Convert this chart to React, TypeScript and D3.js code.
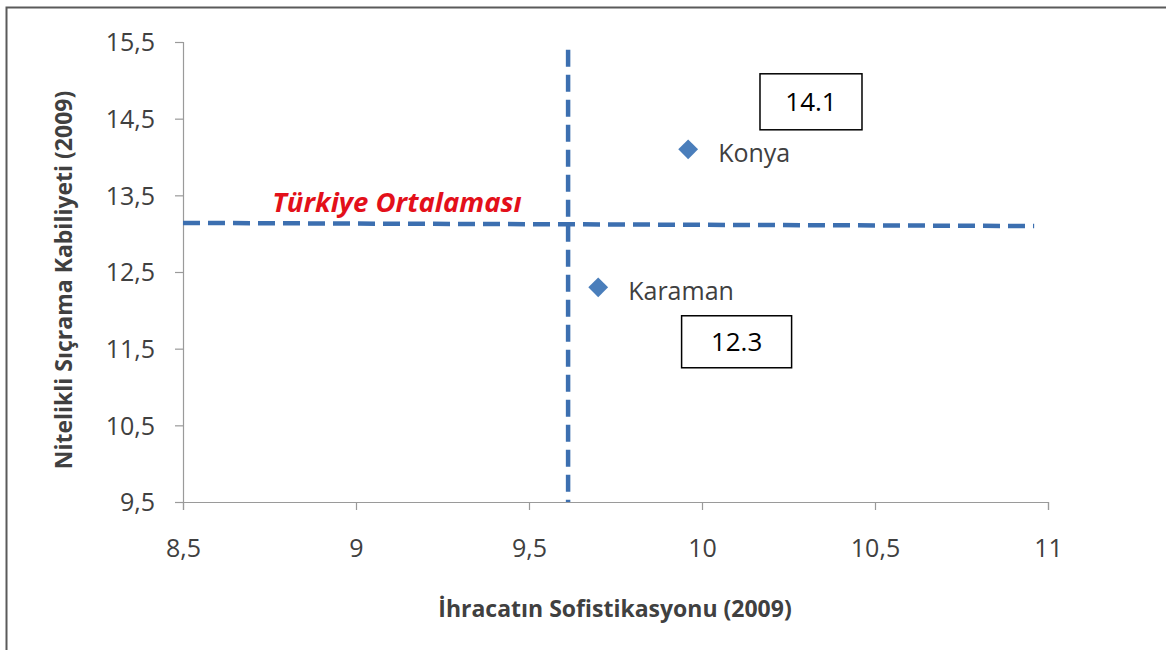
import React, { useRef, useEffect } from "react";
import * as d3 from "d3";

// Data
const xTicks = [8.5, 9, 9.5, 10, 10.5, 11];
const yTicks = [9.5, 10.5, 11.5, 12.5, 13.5, 14.5, 15.5];
const provinces = ["Konya", "Karaman"];
const exportSoph = [9.96, 9.7];
const skillJump = [14.1, 12.3];
// Türkiye average lines
const avgX = 9.613;
const avgY = [13.14, 13.1]; // slight slope as drawn
const avgYRange = [8.5, 10.96];
const avgXRange = [9.5, 15.4];
// value callout boxes (centre in data units)
const boxLabels = ["14.1", "12.3"];
const boxX = [10.315, 10.1];
const boxY = [14.72, 11.59];

const fmt = (d: number) => String(d).replace(".", ",");

function App() {
  const svgRef = useRef<SVGSVGElement>(null);
  const width = 1166;
  const height = 650;

  useEffect(() => {
    const svg = d3.select(svgRef.current);
    svg.selectAll("*").remove();

    const font = "'Open Sans', sans-serif";
    const blue = "#3c6fb0";
    const x = d3.scaleLinear().domain([8.5, 11]).range([183, 1048]);
    const y = d3.scaleLinear().domain([9.5, 15.5]).range([502, 42]);

    // outer frame (top + left)
    svg.append("path")
      .attr("d", `M6.5,${height} V7.5 H${width}`)
      .attr("fill", "none")
      .attr("stroke", "#5a5a5a")
      .attr("stroke-width", 2);

    // axes
    const xAxis = svg.append("g").attr("transform", `translate(0,${y(9.5)})`)
      .call(d3.axisBottom(x).tickValues(xTicks).tickSize(8).tickPadding(29).tickFormat((d) => fmt(d as number)));
    const yAxis = svg.append("g").attr("transform", `translate(${x(8.5)},0)`)
      .call(d3.axisLeft(y).tickValues(yTicks).tickSize(8).tickPadding(20).tickFormat((d) => fmt(d as number)));
    [xAxis, yAxis].forEach((g) => {
      g.select(".domain").attr("stroke", "#9a9a9a").attr("stroke-width", 1.2);
      g.selectAll(".tick line").attr("stroke", "#9a9a9a").attr("stroke-width", 1.2);
      g.selectAll(".tick text")
        .attr("fill", "#404040")
        .style("font-family", font)
        .style("font-size", "25px");
    });
    yAxis.selectAll(".tick text").attr("dy", "0.35em");

    // axis titles
    svg.append("text")
      .attr("x", 615)
      .attr("y", 617)
      .attr("text-anchor", "middle")
      .attr("fill", "#404040")
      .style("font-family", font)
      .style("font-size", "23px")
      .style("font-weight", "bold")
      .text("İhracatın Sofistikasyonu (2009)");
    svg.append("text")
      .attr("transform", "translate(72,280) rotate(-90)")
      .attr("text-anchor", "middle")
      .attr("fill", "#404040")
      .style("font-family", font)
      .style("font-size", "23px")
      .style("font-weight", "bold")
      .text("Nitelikli Sıçrama Kabiliyeti (2009)");

    // average dashed lines
    svg.append("line")
      .attr("x1", x(avgYRange[0])).attr("x2", x(avgYRange[1]))
      .attr("y1", y(avgY[0])).attr("y2", y(avgY[1]))
      .attr("stroke", blue).attr("stroke-width", 4.5)
      .attr("stroke-dasharray", "17,8");
    svg.append("line")
      .attr("x1", x(avgX)).attr("x2", x(avgX))
      .attr("y1", y(avgXRange[1])).attr("y2", y(avgXRange[0]))
      .attr("stroke", blue).attr("stroke-width", 4.5)
      .attr("stroke-dasharray", "17,8");

    svg.append("text")
      .attr("x", x(8.5) + 214)
      .attr("y", y(avgY[0]) - 11)
      .attr("text-anchor", "middle")
      .attr("fill", "#e3101a")
      .style("font-family", font)
      .style("font-size", "27.5px")
      .style("font-weight", "bold")
      .style("font-style", "italic")
      .text("Türkiye Ortalaması");

    // points
    const diamond = d3.symbol().type(d3.symbolDiamond2).size(250);
    provinces.forEach((name, i) => {
      const px = x(exportSoph[i]);
      const py = y(skillJump[i]);
      svg.append("path")
        .attr("d", diamond)
        .attr("transform", `translate(${px},${py})`)
        .attr("fill", "#4a7ebb");
      svg.append("text")
        .attr("x", px + 30)
        .attr("y", py + 4)
        .attr("dy", "0.35em")
        .attr("fill", "#404040")
        .style("font-family", font)
        .style("font-size", "25px")
        .text(name);
    });

    // callout boxes
    boxLabels.forEach((lab, i) => {
      const cx = x(boxX[i]);
      const cy = y(boxY[i]);
      const bw = i === 0 ? 102 : 110;
      const bh = i === 0 ? 56 : 52;
      svg.append("rect")
        .attr("x", cx - bw / 2).attr("y", cy - bh / 2)
        .attr("width", bw).attr("height", bh)
        .attr("fill", "#fff").attr("stroke", "#000").attr("stroke-width", 1.5);
      svg.append("text")
        .attr("x", cx).attr("y", cy)
        .attr("dy", "0.35em")
        .attr("text-anchor", "middle")
        .attr("fill", "#000")
        .style("font-family", font)
        .style("font-size", "26px")
        .text(lab);
    });
  }, []);

  return (
    <svg
      ref={svgRef}
      width={width}
      height={height}
      style={{ position: "absolute", left: 0, top: 0, background: "#fff" }}
    />
  );
}

export default App;
